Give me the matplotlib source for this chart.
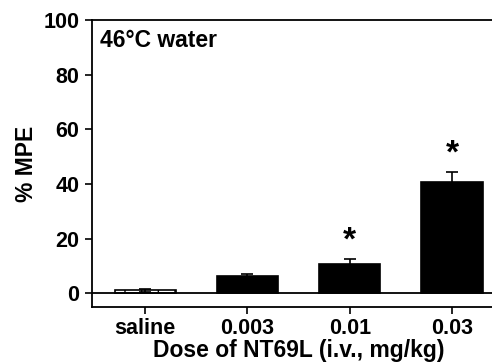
import matplotlib.pyplot as plt
import numpy as np

plt.rcParams['font.family'] = ['Liberation Sans', 'DejaVu Sans']
plt.rcParams['font.weight'] = 'bold'

doses = ['saline', '0.003', '0.01', '0.03']
mpe = [1.2, 6.4, 10.6, 40.9]
sem = [0.6, 0.8, 2.0, 3.4]
signif = [False, False, True, True]

fig = plt.figure(figsize=(4.92, 3.63), dpi=100)
ax = fig.add_axes([0.187, 0.154, 0.84, 0.791])

x = np.arange(len(doses))
colors = ['white', 'black', 'black', 'black']
bars = ax.bar(x, mpe, width=0.6, color=colors, edgecolor='black', linewidth=1.2,
              yerr=sem, error_kw=dict(ecolor='black', elinewidth=1.2, capsize=4, capthick=1.2))
bars[0].set_hatch('|')

for xi, m, s, sig in zip(x, mpe, sem, signif):
    if sig:
        ax.text(xi, m + s + 6.5, '*', ha='center', va='center', fontsize=24, fontweight='bold')

ax.axhline(0, color='black', linewidth=1.3)
ax.set_xlim(-0.52, 3.52)
ax.set_ylim(-5, 100)
ax.set_yticks([0, 20, 40, 60, 80, 100])
ax.set_xticks(x)
ax.set_xticklabels(doses)
ax.tick_params(direction='out', length=5, width=1.2, labelsize=15.5, pad=4)
ax.tick_params(axis='x', pad=3)
ax.set_ylabel('% MPE', fontsize=16.5, fontweight='bold', labelpad=4)
for sp in ax.spines.values():
    sp.set_linewidth(1.3)

# x label sits right at the bottom edge, like the reference
fig.text(0.607, 0.004, 'Dose of NT69L (i.v., mg/kg)', fontsize=16.5,
         fontweight='bold', ha='center', va='bottom')

ax.text(0.02, 0.93, '46°C water', transform=ax.transAxes, fontsize=16.5,
        fontweight='bold', va='center', ha='left')

fig.savefig('out.png', dpi=100)
